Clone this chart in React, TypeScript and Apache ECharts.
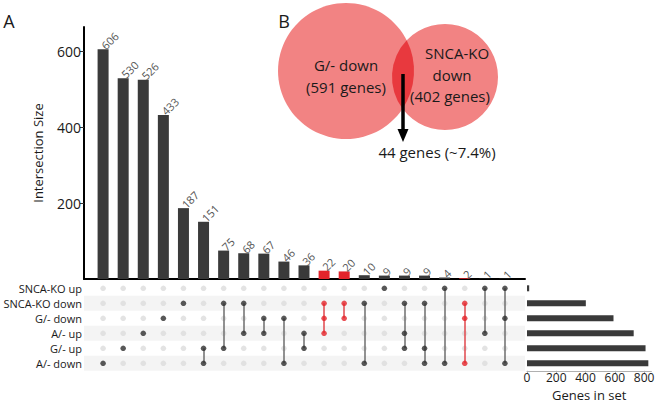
import React, { useEffect, useRef } from 'react';
import * as echarts from 'echarts';

// ---------- data ----------
const intersectionSizes = [606, 530, 526, 433, 187, 151, 75, 68, 67, 46, 36, 22, 20, 10, 9, 9, 9, 4, 2, 1, 1];
// rows (set indices) participating in each intersection column
const memberships = [
  [5], [4], [3], [2], [1], [4, 5], [1, 4], [1, 3], [2, 3], [2, 5], [3, 4],
  [1, 2, 3], [1, 2], [1, 5], [0], [1, 3, 4], [1, 4, 5], [0, 5], [1, 2, 5], [0, 3], [0, 2, 5],
];
const highlightedColumns = [11, 12, 18];
const setNames = ['SNCA-KO up', 'SNCA-KO down', 'G/- down', 'A/- up', 'G/- up', 'A/- down'];
const setSizes = [15, 402, 591, 729, 810, 829];
const intersectionTicks = [200, 400, 600];
const setSizeTicks = [0, 200, 400, 600, 800];
const stripeRows = [1, 3, 5];

// ---------- styles ----------
const DARK = '#3a3a3a';
const RED = '#e3242b';
const FONT = '"Open Sans", sans-serif';
const X_MIN = -0.95;
const X_MAX = 21;

// Venn geometry
const C1 = { x: 346, y: 71, r: 68 };
const C2 = { x: 445, y: 77, r: 53 };
function lensPath(): string {
  const dx = C2.x - C1.x;
  const dy = C2.y - C1.y;
  const d = Math.hypot(dx, dy);
  const a = (d * d + C1.r * C1.r - C2.r * C2.r) / (2 * d);
  const h = Math.sqrt(C1.r * C1.r - a * a);
  const mx = C1.x + (a * dx) / d;
  const my = C1.y + (a * dy) / d;
  const ux = -dy / d;
  const uy = dx / d;
  const p1 = { x: mx - h * ux, y: my - h * uy };
  const p2 = { x: mx + h * ux, y: my + h * uy };
  return `M ${p1.x} ${p1.y} A ${C1.r} ${C1.r} 0 0 1 ${p2.x} ${p2.y} A ${C2.r} ${C2.r} 0 0 1 ${p1.x} ${p1.y} Z`;
}
echarts.graphic.registerShape('vennLens', echarts.graphic.extendPath(lensPath(), {}));

function buildOption(): any {
  const isRed = (i: number) => highlightedColumns.includes(i);

  const greyDots: number[][] = [];
  const darkDots: number[][] = [];
  const redDots: number[][] = [];
  const links: any[] = [];
  memberships.forEach((rows, i) => {
    for (let r = 0; r < setNames.length; r++) {
      if (!rows.includes(r)) greyDots.push([i, r]);
      else if (isRed(i)) redDots.push([i, r]);
      else darkDots.push([i, r]);
    }
    if (rows.length > 1) {
      links.push({
        coords: [[i, Math.min(...rows)], [i, Math.max(...rows)]],
        lineStyle: { color: isRed(i) ? '#e0474c' : '#6e6e6e' },
      });
    }
  });

  const text = (t: string, x: number, y: number, size: number, extra: any = {}) => ({
    type: 'text',
    x,
    y,
    z: 20,
    style: {
      text: t,
      font: `${size}px ${FONT}`,
      fill: '#1a1a1a',
      textAlign: 'center',
      textVerticalAlign: 'middle',
      ...extra,
    },
  });

  return {
    animation: false,
    textStyle: { fontFamily: FONT },
    grid: [
      { left: 84, top: 27, width: 441, height: 252 },
      { left: 84, top: 280.8, width: 441, height: 90 },
      { left: 527, top: 280.8, width: 124.4, height: 90 },
    ],
    xAxis: [
      {
        gridIndex: 0, type: 'value', min: X_MIN, max: X_MAX,
        axisLine: { show: true, onZero: false, lineStyle: { color: '#000', width: 2 } },
        axisTick: { show: false }, axisLabel: { show: false }, splitLine: { show: false },
      },
      {
        gridIndex: 1, type: 'value', min: X_MIN, max: X_MAX, show: false,
        splitLine: { show: false },
      },
      {
        gridIndex: 2, type: 'value', min: 0, max: 850,
        axisLine: { show: true, onZero: false, lineStyle: { color: '#b0b0b0', width: 1 } },
        axisTick: { show: true, length: 3, lineStyle: { color: '#b0b0b0' }, customValues: setSizeTicks },
        axisLabel: {
          color: '#1a1a1a', fontSize: 12, lineHeight: 12, margin: 1,
          customValues: setSizeTicks, fontFamily: FONT,
        },
        splitLine: { show: false },
        name: 'Genes in set', nameLocation: 'middle', nameGap: 18,
        nameTextStyle: { color: '#1a1a1a', fontSize: 13, lineHeight: 13, fontFamily: FONT },
      },
    ],
    yAxis: [
      {
        gridIndex: 0, type: 'value', min: 0, max: 665,
        axisLine: { show: true, onZero: false, lineStyle: { color: '#000', width: 2 } },
        axisTick: { show: true, length: 4, lineStyle: { color: '#333' }, customValues: intersectionTicks },
        axisLabel: { color: '#1a1a1a', fontSize: 14, margin: 3, customValues: intersectionTicks, fontFamily: FONT },
        splitLine: { show: false },
        name: 'Intersection Size', nameLocation: 'middle', nameGap: 40,
        nameTextStyle: { color: '#1a1a1a', fontSize: 13, fontFamily: FONT },
      },
      {
        gridIndex: 1, type: 'value', min: -0.5, max: 5.5, inverse: true,
        axisLine: { show: false, onZero: false }, axisTick: { show: false }, splitLine: { show: false },
        axisLabel: {
          color: '#1a1a1a', fontSize: 11, margin: 2, fontFamily: FONT,
          customValues: [0, 1, 2, 3, 4, 5],
          formatter: (v: number) => setNames[Math.round(v)] ?? '',
        },
      },
      {
        gridIndex: 2, type: 'category', data: setNames, inverse: true, show: false,
      },
    ],
    series: [
      {
        type: 'bar',
        xAxisIndex: 0, yAxisIndex: 0,
        barWidth: 11,
        data: intersectionSizes.map((v, i) => ({
          value: [i, v],
          itemStyle: { color: isRed(i) ? RED : DARK },
        })),
        label: {
          show: true, position: 'top', rotate: 45, align: 'left', verticalAlign: 'middle',
          distance: 2, color: '#555555', fontSize: 11, fontFamily: FONT,
          formatter: (p: any) => String(p.value[1]),
        },
      },
      {
        type: 'scatter',
        xAxisIndex: 1, yAxisIndex: 1,
        symbolSize: 5.5,
        itemStyle: { color: '#dcdcdc' },
        data: greyDots,
        z: 3,
        markArea: {
          silent: true,
          itemStyle: { color: '#f4f4f4' },
          data: stripeRows.map((r) => [
            { xAxis: X_MIN, yAxis: r - 0.5 },
            { xAxis: X_MAX, yAxis: r + 0.5 },
          ]),
        },
      },
      {
        type: 'lines',
        coordinateSystem: 'cartesian2d',
        xAxisIndex: 1, yAxisIndex: 1,
        lineStyle: { width: 1.5, opacity: 1 },
        data: links,
        z: 4,
      },
      {
        type: 'scatter',
        xAxisIndex: 1, yAxisIndex: 1,
        symbolSize: 5.5,
        itemStyle: { color: '#2e2e2e' },
        data: darkDots,
        z: 5,
      },
      {
        type: 'scatter',
        xAxisIndex: 1, yAxisIndex: 1,
        symbolSize: 5.5,
        itemStyle: { color: RED },
        data: redDots,
        z: 5,
      },
      {
        type: 'bar',
        xAxisIndex: 2, yAxisIndex: 2,
        barWidth: 6,
        itemStyle: { color: DARK },
        data: setSizes,
      },
    ],
    graphic: [
      text('A', 9, 21, 18),
      text('B', 284, 21, 18),
      { type: 'circle', z: 10, shape: { cx: C1.x, cy: C1.y, r: C1.r }, style: { fill: '#f28383' } },
      { type: 'circle', z: 10, shape: { cx: C2.x, cy: C2.y, r: C2.r }, style: { fill: '#f28383' } },
      { type: 'vennLens', z: 11, x: 0, y: 0, style: { fill: '#e8393e' } },
      text('G/- down', 346, 65, 15),
      text('(591 genes)', 346, 87, 15),
      text('SNCA-KO', 457, 53, 15),
      text('down', 452, 75, 15),
      text('(402 genes)', 450, 96, 15),
      { type: 'line', z: 21, shape: { x1: 403, y1: 74, x2: 403, y2: 131 }, style: { stroke: '#000', lineWidth: 3.5 } },
      { type: 'polygon', z: 21, shape: { points: [[397.5, 129], [408.5, 129], [403, 142]] }, style: { fill: '#000' } },
      text('44 genes (~7.4%)', 437, 152, 15),
    ],
  };
}

export default function App() {
  const ref = useRef<HTMLDivElement>(null);
  useEffect(() => {
    if (!ref.current) return;
    const chart = echarts.init(ref.current, undefined, { renderer: 'svg' });
    chart.setOption(buildOption());
    return () => chart.dispose();
  }, []);
  return (
    <div
      ref={ref}
      style={{ position: 'fixed', left: 0, top: 0, width: 666, height: 407, background: '#fff' }}
    />
  );
}
